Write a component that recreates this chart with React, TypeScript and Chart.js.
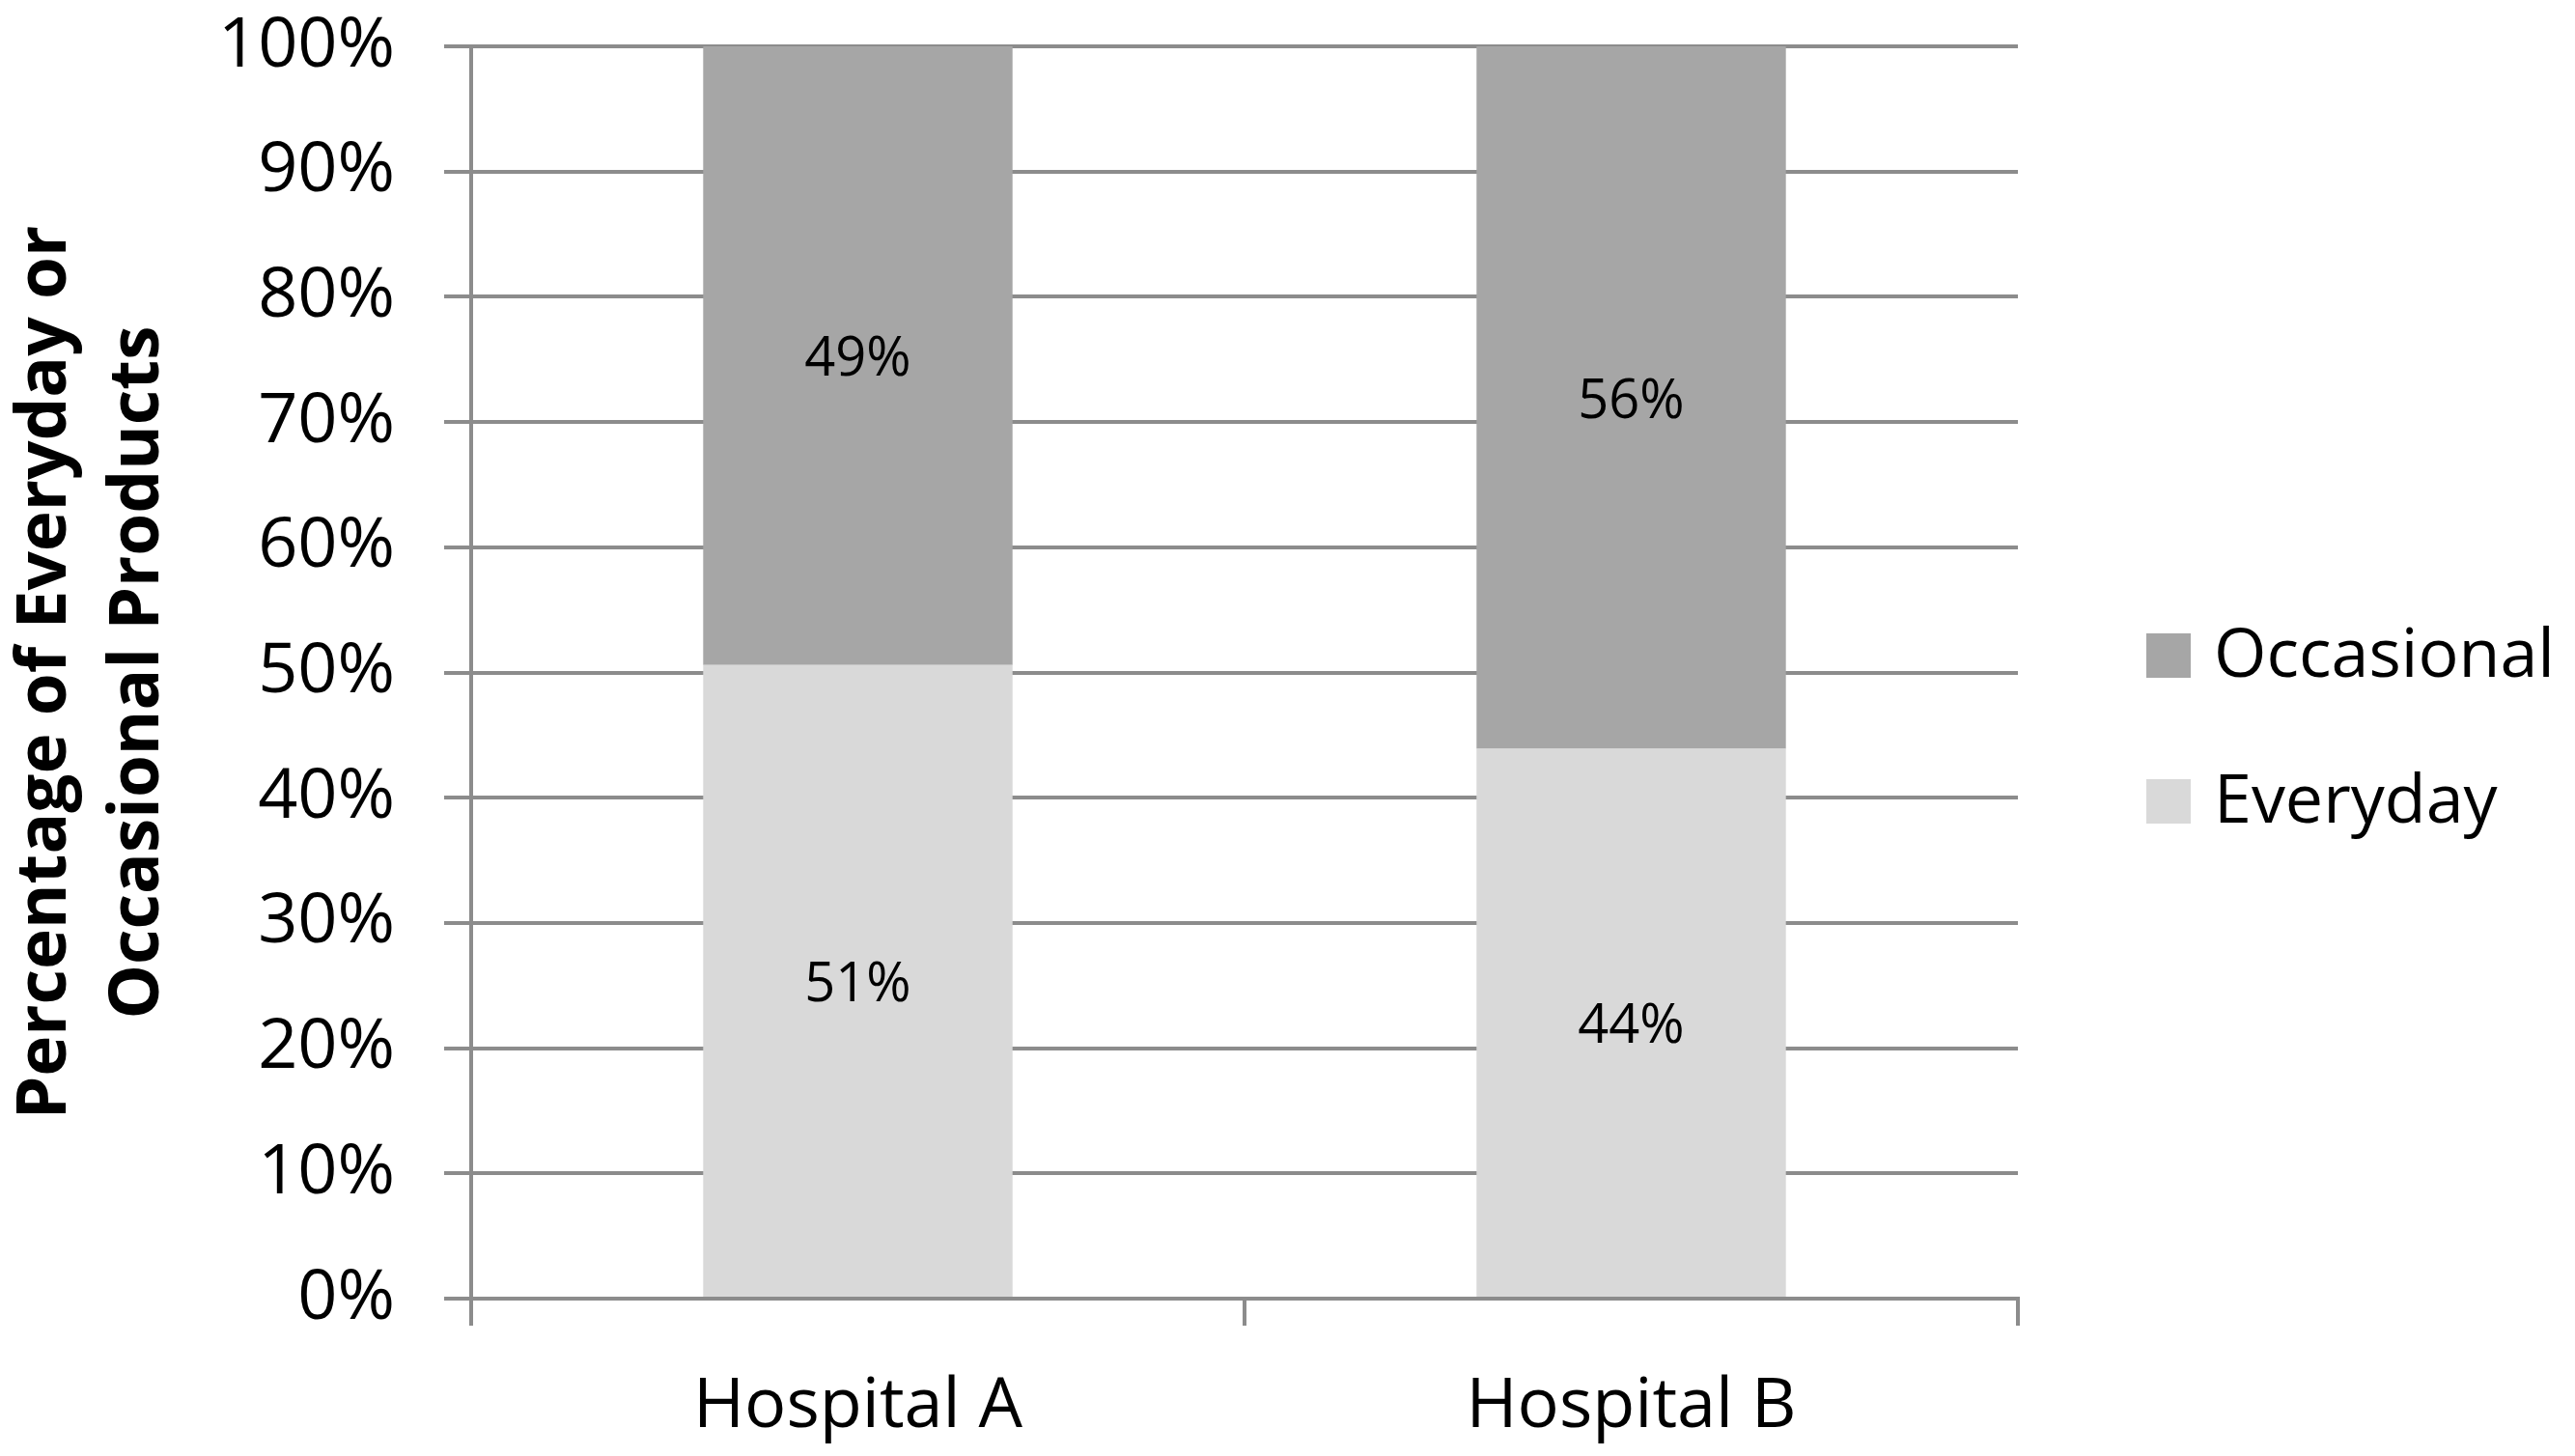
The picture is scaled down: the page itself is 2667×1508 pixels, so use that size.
import { useEffect, useRef } from "react";
import { Chart, registerables } from "chart.js";

Chart.register(...registerables);

const hospitals = ["Hospital A", "Hospital B"];
const everydayPct = [50.6, 43.9];
const occasionalPct = [49.4, 56.1];
const yTickValues = [0, 10, 20, 30, 40, 50, 60, 70, 80, 90, 100];

const FONT = "'Open Sans', 'DejaVu Sans', sans-serif";
const AXIS_GRAY = "#8c8c8c";

// draws the "51%" style labels in the middle of each stacked segment
const segmentLabels = {
  id: "segmentLabels",
  afterDatasetsDraw(chart: Chart) {
    const { ctx } = chart;
    ctx.save();
    ctx.font = `56px ${FONT}`;
    ctx.fillStyle = "#000000";
    ctx.textAlign = "center";
    ctx.textBaseline = "middle";
    chart.data.datasets.forEach((ds, di) => {
      const meta = chart.getDatasetMeta(di);
      meta.data.forEach((bar: any, i) => {
        const { x, y, base } = bar.getProps(["x", "y", "base"], true);
        const v = ds.data[i] as number;
        ctx.fillText(`${Math.round(v)}%`, x, (y + base) / 2 + 5);
      });
    });
    ctx.restore();
  },
};

// legend on the right, drawn from the datasets (last dataset on top)
const sideLegend = {
  id: "sideLegend",
  afterDraw(chart: Chart) {
    const { ctx, chartArea } = chart;
    const box = 46;
    const rowGap = 151;
    const left = chartArea.right + 133;
    const sets = [...chart.data.datasets].reverse();
    const firstTop = 656;
    ctx.save();
    ctx.font = `70px ${FONT}`;
    ctx.textAlign = "left";
    ctx.textBaseline = "middle";
    sets.forEach((ds, i) => {
      const top = firstTop + i * rowGap;
      ctx.fillStyle = ds.backgroundColor as string;
      ctx.fillRect(left, top, box, box);
      ctx.fillStyle = "#000000";
      ctx.fillText(ds.label as string, left + box + 24, top + box / 2 + 2);
    });
    ctx.restore();
  },
};

export default function App() {
  const canvasRef = useRef<HTMLCanvasElement | null>(null);

  useEffect(() => {
    if (!canvasRef.current) return;
    Chart.defaults.font.family = FONT;
    Chart.defaults.color = "#000000";

    const chart = new Chart(canvasRef.current, {
      type: "bar",
      data: {
        labels: hospitals,
        datasets: [
          {
            label: "Everyday",
            data: everydayPct,
            backgroundColor: "#d9d9d9",
            barPercentage: 0.4,
            categoryPercentage: 1,
          },
          {
            label: "Occasional",
            data: occasionalPct,
            backgroundColor: "#a6a6a6",
            barPercentage: 0.4,
            categoryPercentage: 1,
          },
        ],
      },
      options: {
        animation: false,
        responsive: true,
        maintainAspectRatio: false,
        layout: { padding: { top: 48, left: 0, right: 577, bottom: 0 } },
        plugins: {
          tooltip: { enabled: false },
          legend: { display: false },
        },
        scales: {
          x: {
            stacked: true,
            offset: true,
            grid: {
              display: true,
              drawOnChartArea: false,
              drawTicks: true,
              tickLength: 28,
              offset: true,
              color: AXIS_GRAY,
              lineWidth: 4,
            },
            border: { display: true, color: AXIS_GRAY, width: 4 },
            ticks: {
              padding: 41,
              color: "#000000",
              font: { size: 72, family: FONT },
            },
            afterFit: (s: any) => {
              s.height = 163;
            },
          },
          y: {
            stacked: true,
            min: 0,
            max: 100,
            afterBuildTicks: (s: any) => {
              s.ticks = yTickValues.map((v) => ({ value: v }));
            },
            grid: {
              color: AXIS_GRAY,
              lineWidth: 4,
              tickLength: 28,
            },
            border: { display: true, color: AXIS_GRAY, width: 4 },
            ticks: {
              padding: 51,
              color: "#000000",
              font: { size: 72, family: FONT },
              callback: (v: any) => `${v}%`,
            },
            title: {
              display: true,
              text: ["Percentage of Everyday or", "Occasional Products"],
              color: "#000000",
              font: { size: 71, weight: "bold", family: FONT, lineHeight: 1.35 },
              padding: { top: 0, bottom: 0 },
            },
            afterFit: (s: any) => {
              s.width = 488;
              s.paddingTop = 0;
              s.paddingBottom = 0;
            },
          },
        },
      },
      plugins: [segmentLabels, sideLegend],
    });

    return () => chart.destroy();
  }, []);

  return (
    <div
      style={{
        position: "absolute",
        left: 0,
        top: 0,
        width: 2667,
        height: 1508,
        background: "#ffffff",
      }}
    >
      <canvas ref={canvasRef} />
    </div>
  );
}
